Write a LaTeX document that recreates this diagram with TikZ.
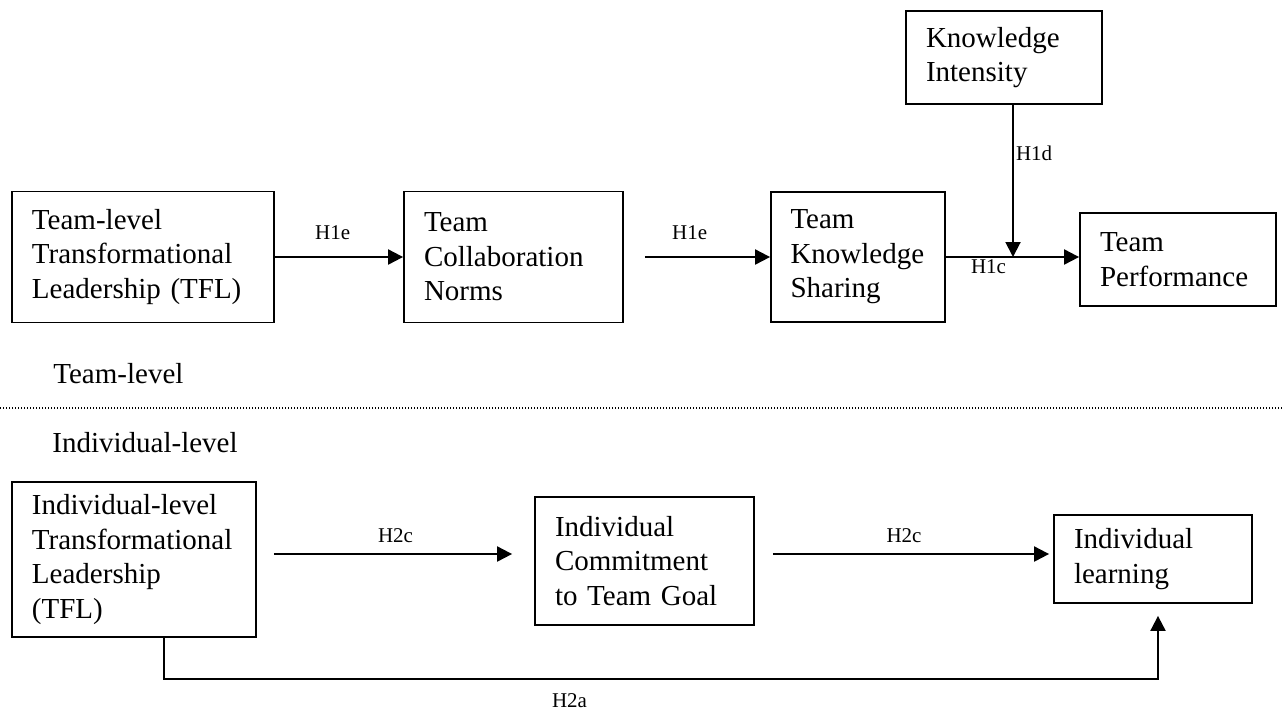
\documentclass[tikz,border=0pt]{standalone}
\usepackage{fontspec}
\setmainfont{Liberation Serif}
\usepackage{tikz}
\usetikzlibrary{arrows.meta,positioning}

\begin{document}
\begin{tikzpicture}
      [x=0.5pt, y=-0.5pt,
      node box/.style={draw, line width=0.9pt, rectangle, align=left, inner xsep=10pt, inner ysep=0pt, font=\fontsize{14.5}{17.3}\selectfont},
      level text/.style={anchor=west, inner sep=0pt, font=\fontsize{14.5}{17.3}\selectfont},
      edge arrow/.style={draw, line width=1pt, -{Triangle[length=7.5pt, width=7.5pt]}},
      edge label/.style={font=\fontsize{10.5}{12}\selectfont}
      ]
      \useasboundingbox (0,0) rectangle (1284,713);

      \node[node box, text width=111pt, minimum height=65.5pt] (tfl) at (143,257) {Team-level\\Transformational\\Leadership (TFL)};
      \node[node box, text width=89.5pt, minimum height=65.5pt] (norms) at (513.5,257) {Team\\Collaboration\\Norms};
      \node[node box, text width=67.5pt, inner xsep=9.75pt, minimum height=65pt] (share) at (858,257) {Team\\Knowledge\\Sharing};
      \node[node box, text width=78pt, minimum height=46.5pt] (intens) at (1004,57.5) {Knowledge\\Intensity};
      \node[node box, text width=78pt, minimum height=46.5pt] (perf) at (1178,259.5) {Team\\Performance};

      \node[level text] (teamlvl) at (53,374) {Team-level};
      \node[level text] (indlvl) at (52,443) {Individual-level};

      \node[node box, text width=102pt, minimum height=77.5pt] (itfl) at (134,559.5) {Individual-level\\Transformational\\Leadership\\(TFL)};
      \node[node box, text width=89.5pt, minimum height=64pt] (commit) at (644.5,561) {Individual\\Commitment\\to Team Goal};
      \node[node box, text width=79pt, minimum height=44pt] (learn) at (1153,559) {Individual\\learning};

      \coordinate (meet) at (1013,257);
      \coordinate (row2) at (0,554);
      \coordinate (turn) at (1158,679);
      \coordinate (divL) at (0,408);
      \coordinate (divR) at (1284,408);

      \draw[edge arrow] (tfl.east) -- node[edge label, above=5pt, pos=0.45] {H1e} (norms.west);
      \draw[edge arrow, shorten <=10.5pt] (norms.east) -- node[edge label, above=5pt, pos=0.45] {H1e} (share.west);
      \draw[edge arrow] (share.east) -- node[edge label, below, inner sep=1pt, pos=0.32] {H1c} (share.east -| perf.west);
      \draw[edge arrow] (intens.south -| meet) -- node[edge label, right, inner sep=1pt, pos=0.32] {H1d} (meet);

      \draw[line width=0.6pt, dash pattern=on 0.6pt off 0.9pt] (divL) -- (divR);

      \draw[edge arrow, shorten <=8.5pt, shorten >=11pt] (itfl.east |- row2) -- node[edge label, above=2pt] {H2c} (commit.west |- row2);
      \draw[edge arrow, shorten <=9pt, shorten >=2pt] (commit.east |- row2) -- node[edge label, above=2pt] {H2c} (learn.west |- row2);
      \draw[edge arrow, shorten >=6pt] ([xshift=15pt]itfl.south) |- node[edge label, below=3.5pt, pos=0.704] {H2a} (turn) -- (turn |- learn.south);
\end{tikzpicture}
\end{document}
